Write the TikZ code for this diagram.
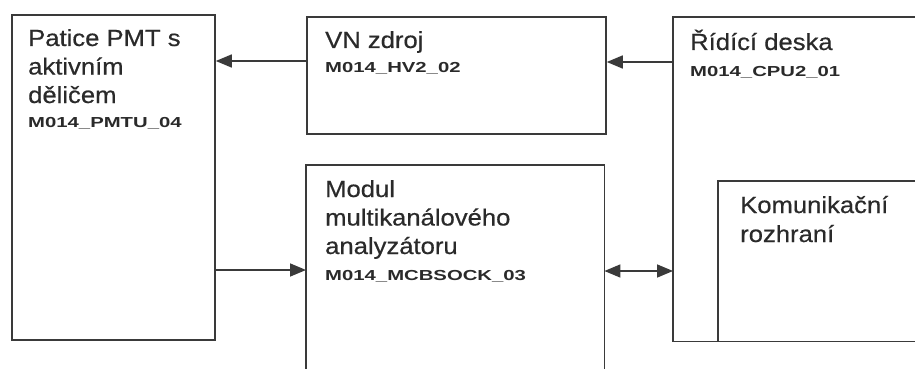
\documentclass[tikz,border=0pt]{standalone}
\usepackage{fontspec}
\setmainfont{Liberation Sans}[FakeStretch=1.1, FakeBold=0.5]
\newfontfamily\codefont{Liberation Sans Bold}[FakeStretch=1.4]
\usetikzlibrary{arrows.meta}
\definecolor{ln}{HTML}{3A3A3A}
\definecolor{tx}{HTML}{2A2A2A}
\tikzset{
  blockbox/.style={draw=ln, line width=1.8pt, inner sep=0pt, anchor=north west},
  openbox/.style={draw=none, inner sep=0pt, anchor=north west},
  edge/.style={draw=ln, line width=1.8pt},
  arr/.style={draw=ln, line width=1.6pt, -{Triangle[length=16pt,width=13pt]}},
  dblarr/.style={draw=ln, line width=1.6pt, {Triangle[length=16pt,width=13pt]}-{Triangle[length=16pt,width=13pt]}},
  title/.style={anchor=base west, inner sep=0pt, text=tx, font=\fontsize{23.3}{28}\selectfont},
  code/.style={anchor=base west, inner sep=0pt, text=tx, font=\codefont\fontsize{14.5}{17}\selectfont},
}
\begin{document}
\begin{tikzpicture}[x=1pt,y=-1pt]
\useasboundingbox[fill=white] (0,0) rectangle (915,369);

% boxes
\node[blockbox, minimum width=203pt, minimum height=325pt] (pmt) at (11,14) {};
\node[blockbox, minimum width=299pt, minimum height=117pt] (vn) at (306,16) {};
\node[openbox, minimum width=298pt, minimum height=220pt] (mod) at (306,165) {};
\node[openbox, minimum width=260pt, minimum height=324pt] (cpu) at (673,17) {};
\node[openbox, minimum width=215pt, minimum height=160pt] (kom) at (718,181) {};

\draw[edge] (mod.south west) -- (mod.north west) -- (mod.north east) -- (mod.south east);
\draw[edge] (cpu.north east) -- (cpu.north west) -- (cpu.south west) -- (cpu.south east);
\draw[edge] (kom.south west) -- (kom.north west) -- (kom.north east);

% texts
\node[title] (pmtA) at (28,46) {Patice PMT s};
\node[title] (pmtB) at (28,74.5) {aktivním};
\node[title] (pmtC) at (28,103) {děličem};
\node[code]  (pmtD) at (28,127) {M014\_PMTU\_04};

\node[title] (vnA) at (325,48) {VN zdroj};
\node[code]  (vnB) at (325,73) {M014\_HV2\_02};

\node[title] (modA) at (325,197) {Modul};
\node[title] (modB) at (325,225.5) {multikanálového};
\node[title] (modC) at (325,254) {analyzátoru};
\node[code]  (modD) at (325,280) {M014\_MCBSOCK\_03};

\node[title] (cpuA) at (690,50) {Řídící deska};
\node[code]  (cpuB) at (690,76) {M014\_CPU2\_01};

\node[title] (komA) at (740,213) {Komunikační};
\node[title] (komB) at (740,242) {rozhraní};

% connectors
\coordinate (yA) at (0,61);
\coordinate (yB) at (0,62);
\coordinate (yC) at (0,270);
\coordinate (yD) at (0,271);
\draw[arr] (vn.west |- yA) -- (pmt.east |- yA);
\draw[arr] (cpu.west |- yB) -- (vn.east |- yB);
\draw[arr] (pmt.east |- yC) -- (mod.west |- yC);
\draw[dblarr] (mod.east |- yD) -- (cpu.west |- yD);
\end{tikzpicture}
\end{document}
